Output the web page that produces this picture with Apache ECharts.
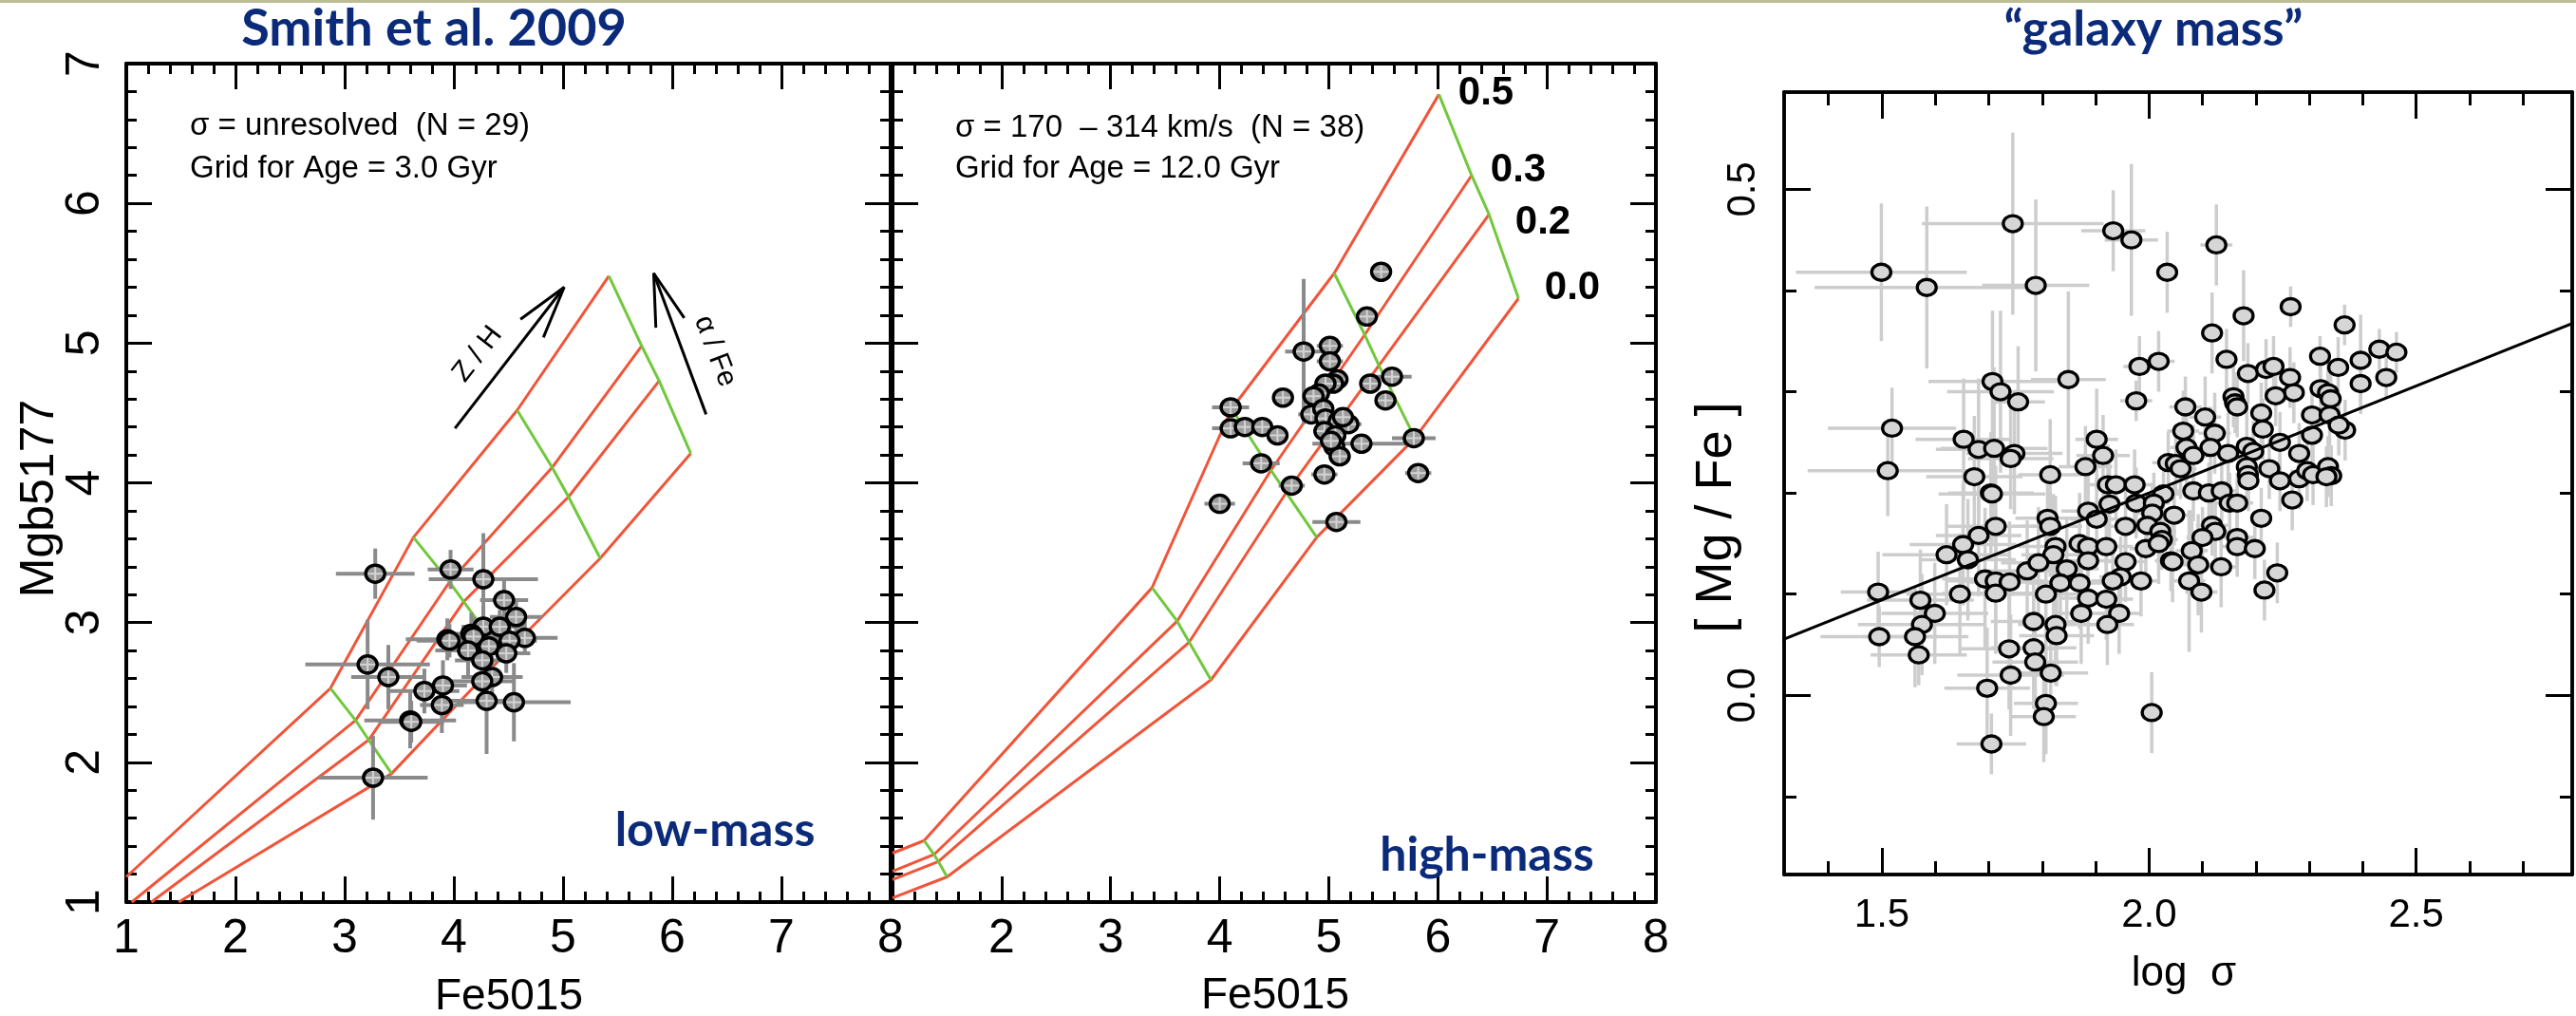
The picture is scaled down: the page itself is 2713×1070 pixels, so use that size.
<!DOCTYPE html>
<html><head><meta charset="utf-8">
<script src="https://cdn.jsdelivr.net/npm/echarts@6/dist/echarts.min.js"></script>
<style>html,body{margin:0;padding:0;background:#fff}#c{width:2713px;height:1070px}</style>
</head><body><div id="c"></div>
<script>
// ---------------- DATA ----------------
// Left panel (low-mass, age 3 Gyr) model grid lines [Fe5015, Mgb5177]
const lowGrid05 = [[1.00,1.18],[2.87,2.53],[3.63,3.61],[4.58,4.52],[5.42,5.48]];
const lowGrid03 = [[1.05,1.00],[3.10,2.30],[3.96,3.29],[4.90,4.11],[5.72,4.98]];
const lowGrid02 = [[1.23,1.00],[3.22,2.16],[4.09,3.15],[5.05,3.90],[5.88,4.73]];
const lowGrid00 = [[1.48,1.00],[3.43,1.92],[4.45,2.76],[5.34,3.46],[6.17,4.21]];
// Middle panel (high-mass, age 12 Gyr) model grid lines
const highGrid05 = [[1.00,1.35],[1.29,1.44],[3.38,3.25],[4.11,4.53],[5.05,5.50],[6.01,6.78]];
const highGrid03 = [[1.00,1.22],[1.38,1.34],[3.61,3.01],[4.47,4.09],[5.33,5.06],[6.31,6.20]];
const highGrid02 = [[1.00,1.16],[1.42,1.29],[3.72,2.86],[4.61,3.93],[5.46,4.84],[6.47,5.92]];
const highGrid00 = [[1.00,1.03],[1.50,1.18],[3.92,2.59],[4.89,3.61],[5.79,4.32],[6.74,5.32]];
const alphaLabels = ['0.5','0.3','0.2','0.0'];

// Points [Fe5015, Mgb5177, errFe, errMgb]
const lowMassPoints = [
 [3.28,3.35,0.36,0.18],[3.97,3.38,0.21,0.14],[4.27,3.31,0.50,0.33],[4.46,3.16,0.22,0.16],
 [4.57,3.04,0.24,0.12],[4.27,2.97,0.20,0.15],[4.42,2.97,0.22,0.12],[4.16,2.92,0.25,0.15],
 [4.18,2.90,0.20,0.14],[3.94,2.88,0.38,0.15],[4.65,2.89,0.30,0.12],[4.51,2.87,0.25,0.14],
 [4.32,2.83,0.22,0.15],[4.13,2.80,0.30,0.18],[4.48,2.78,0.22,0.14],[4.26,2.73,0.25,0.22],
 [3.21,2.70,0.57,0.32],[3.40,2.61,0.34,0.23],[4.35,2.61,0.28,0.15],[4.26,2.58,0.30,0.20],
 [3.90,2.55,0.22,0.18],[3.73,2.51,0.32,0.16],[3.89,2.41,0.20,0.20],[4.30,2.44,0.35,0.38],
 [4.55,2.43,0.52,0.28],[3.60,2.30,0.42,0.20],[3.61,2.29,0.30,0.15],[3.26,1.89,0.50,0.30],
 [3.96,2.87,0.30,0.12]
];
const highMassPoints = [
 [5.48,5.51,0.05,0.03],[5.35,5.19,0.05,0.03],[4.77,4.94,0.17,0.52],[5.01,4.98,0.12,0.04],
 [5.01,4.87,0.12,0.04],[5.58,4.76,0.18,0.04],[5.38,4.71,0.08,0.04],[5.52,4.59,0.06,0.03],
 [5.08,4.74,0.10,0.04],[5.04,4.71,0.10,0.04],[4.97,4.71,0.10,0.04],[4.91,4.64,0.10,0.04],
 [4.86,4.62,0.10,0.04],[4.58,4.61,0.08,0.03],[4.10,4.54,0.17,0.04],[4.10,4.39,0.17,0.04],
 [4.23,4.40,0.10,0.03],[4.39,4.40,0.10,0.03],[4.53,4.34,0.08,0.03],[4.84,4.49,0.12,0.04],
 [4.95,4.53,0.10,0.04],[4.97,4.46,0.10,0.04],[5.09,4.44,0.10,0.04],[5.18,4.42,0.12,0.04],
 [4.96,4.37,0.10,0.04],[5.06,4.34,0.10,0.04],[5.05,4.26,0.10,0.04],[5.10,4.19,0.10,0.04],
 [5.30,4.28,0.45,0.04],[5.78,4.32,0.20,0.04],[4.38,4.14,0.17,0.04],[4.66,3.98,0.12,0.04],
 [4.96,4.06,0.12,0.04],[5.82,4.07,0.12,0.04],[4.00,3.85,0.14,0.04],[5.07,3.72,0.22,0.05],
 [5.02,4.30,0.10,0.04],[5.13,4.47,0.10,0.04]
];
// Arrows (data coords of the left panel)
const arrowZH = [[4.01,4.39],[5.01,5.40]];
const arrowZHHead = [[4.61,5.17],[5.01,5.40],[4.82,5.04]];
const arrowAF = [[6.31,4.49],[5.83,5.50]];
const arrowAFHead = [[5.85,5.11],[5.83,5.50],[6.11,5.18]];

// Right panel: [log sigma, [Mg/Fe], err log sigma, err [Mg/Fe]]
const massPoints = [
 [1.499,0.418,0.16,0.068],[1.584,0.403,0.21,0.080],[1.745,0.466,0.17,0.090],[1.788,0.405,0.10,0.085],
 [1.933,0.459,0.06,0.040],[1.967,0.450,0.05,0.075],[2.034,0.418,0.02,0.040],[1.707,0.310,0.12,0.070],
 [1.722,0.300,0.10,0.080],[1.755,0.290,0.05,0.055],[1.849,0.312,0.07,0.087],[1.982,0.325,0.03,0.030],
 [2.018,0.330,0.03,0.030],[1.976,0.291,0.03,0.020],[1.519,0.264,0.12,0.040],[1.511,0.222,0.15,0.045],
 [1.653,0.253,0.09,0.060],[1.681,0.243,0.08,0.070],[1.710,0.244,0.10,0.080],[1.748,0.239,0.09,0.060],
 [1.741,0.234,0.08,0.050],[1.673,0.216,0.09,0.060],[1.704,0.200,0.08,0.060],[1.706,0.199,0.10,0.050],
 [1.815,0.218,0.06,0.055],[1.902,0.253,0.04,0.050],[1.914,0.237,0.05,0.040],[1.881,0.226,0.05,0.040],
 [1.923,0.208,0.04,0.040],[1.938,0.208,0.04,0.035],[1.973,0.208,0.03,0.035],[1.886,0.182,0.05,0.045],
 [1.902,0.174,0.05,0.040],[1.926,0.189,0.04,0.040],[1.976,0.190,0.03,0.035],[2.027,0.199,0.03,0.030],
 [2.009,0.190,0.03,0.030],[2.006,0.180,0.03,0.030],[1.810,0.175,0.06,0.050],[1.815,0.167,0.06,0.050],
 [1.713,0.167,0.09,0.060],[1.681,0.158,0.08,0.060],[1.652,0.149,0.10,0.060],[1.621,0.139,0.12,0.050],
 [1.661,0.134,0.09,0.060],[1.825,0.147,0.07,0.050],[1.821,0.139,0.06,0.060],[1.870,0.150,0.05,0.050],
 [1.886,0.147,0.05,0.045],[1.920,0.147,0.05,0.040],[1.956,0.167,0.04,0.040],[1.997,0.168,0.03,0.030],
 [2.021,0.162,0.03,0.030],[1.994,0.145,0.03,0.030],[2.024,0.154,0.03,0.030],[1.772,0.123,0.08,0.050],
 [1.793,0.131,0.07,0.055],[1.846,0.125,0.06,0.050],[1.834,0.111,0.06,0.045],[1.870,0.111,0.05,0.045],
 [1.886,0.133,0.05,0.045],[1.956,0.132,0.04,0.040],[1.947,0.117,0.04,0.040],[1.932,0.113,0.04,0.040],
 [1.985,0.113,0.03,0.035],[2.041,0.133,0.03,0.030],[1.493,0.102,0.07,0.040],[1.572,0.094,0.10,0.050],
 [1.646,0.100,0.10,0.060],[1.693,0.115,0.08,0.070],[1.713,0.113,0.09,0.070],[1.713,0.101,0.10,0.060],
 [1.739,0.112,0.08,0.060],[1.807,0.100,0.07,0.060],[1.886,0.096,0.05,0.045],[1.920,0.095,0.05,0.040],
 [1.944,0.081,0.04,0.040],[1.873,0.081,0.05,0.050],[1.599,0.081,0.10,0.050],[1.575,0.070,0.12,0.050],
 [1.562,0.058,0.10,0.050],[1.495,0.058,0.11,0.030],[1.569,0.040,0.09,0.030],[1.784,0.073,0.08,0.060],
 [1.825,0.070,0.07,0.060],[1.827,0.059,0.07,0.050],[1.922,0.070,0.05,0.040],[1.738,0.046,0.09,0.060],
 [1.784,0.047,0.08,0.060],[1.787,0.033,0.08,0.050],[1.741,0.020,0.10,0.060],[1.816,0.022,0.07,0.050],
 [1.697,0.007,0.08,0.060],[1.807,-0.008,0.06,0.050],[1.803,-0.021,0.06,0.045],[2.005,-0.017,0.02,0.040],
 [1.705,-0.048,0.065,0.030],
 [2.126,0.445,0.03,0.040],[2.265,0.384,0.02,0.020],[2.177,0.375,0.02,0.045],[2.366,0.366,0.02,0.020],
 [2.118,0.358,0.02,0.040],[2.431,0.342,0.02,0.020],[2.463,0.339,0.02,0.020],[2.320,0.335,0.02,0.020],
 [2.354,0.324,0.02,0.030],[2.396,0.331,0.02,0.045],[2.444,0.314,0.02,0.020],[2.396,0.308,0.02,0.030],
 [2.145,0.332,0.02,0.030],[2.185,0.318,0.02,0.030],[2.219,0.322,0.02,0.030],[2.233,0.325,0.02,0.030],
 [2.264,0.314,0.02,0.030],[2.271,0.299,0.02,0.030],[2.237,0.296,0.02,0.030],[2.321,0.303,0.02,0.030],
 [2.335,0.299,0.02,0.030],[2.340,0.293,0.02,0.030],[2.158,0.295,0.02,0.030],[2.161,0.289,0.02,0.030],
 [2.165,0.285,0.02,0.030],[2.068,0.285,0.03,0.030],[2.105,0.275,0.03,0.040],[2.210,0.279,0.02,0.030],
 [2.213,0.263,0.02,0.030],[2.305,0.277,0.02,0.030],[2.338,0.277,0.02,0.030],[2.367,0.262,0.02,0.030],
 [2.355,0.267,0.02,0.030],[2.064,0.261,0.03,0.040],[2.123,0.259,0.03,0.040],[2.070,0.245,0.03,0.040],
 [2.115,0.245,0.03,0.040],[2.148,0.239,0.02,0.040],[2.083,0.237,0.03,0.030],[2.036,0.230,0.03,0.030],
 [2.050,0.229,0.03,0.030],[2.059,0.224,0.03,0.030],[2.183,0.246,0.02,0.040],[2.195,0.241,0.02,0.030],
 [2.245,0.250,0.02,0.030],[2.281,0.239,0.02,0.030],[2.305,0.257,0.02,0.030],[2.183,0.226,0.02,0.030],
 [2.185,0.218,0.02,0.030],[2.186,0.212,0.02,0.030],[2.225,0.224,0.02,0.030],[2.245,0.212,0.02,0.030],
 [2.281,0.214,0.02,0.030],[2.296,0.222,0.02,0.030],[2.307,0.218,0.02,0.030],[2.335,0.226,0.02,0.030],
 [2.341,0.217,0.02,0.030],[2.332,0.216,0.02,0.030],[2.268,0.193,0.02,0.030],[2.083,0.202,0.03,0.030],
 [2.112,0.200,0.03,0.030],[2.136,0.202,0.03,0.030],[2.151,0.190,0.03,0.030],[2.165,0.190,0.03,0.030],
 [2.210,0.175,0.02,0.030],[2.047,0.178,0.03,0.030],[2.118,0.168,0.03,0.030],[2.124,0.162,0.03,0.030],
 [2.100,0.156,0.03,0.030],[2.165,0.156,0.03,0.030],[2.165,0.147,0.03,0.030],[2.198,0.145,0.02,0.030],
 [2.080,0.143,0.03,0.040],[2.018,0.150,0.03,0.040],[2.044,0.132,0.03,0.040],[2.092,0.129,0.03,0.050],
 [2.135,0.127,0.03,0.040],[2.075,0.113,0.03,0.070],[2.098,0.102,0.03,0.040],[2.240,0.121,0.02,0.030],
 [2.216,0.104,0.02,0.030]
];
const fitLine = [[1.30,0.052],[2.80,0.369]];

// Tick values
const feTicksMin = 1, feTicksMax = 8, mgbMin = 1, mgbMax = 7;
const massXRange = [1.317, 2.792];
const massYRange = [-0.177, 0.596];
const massXMajor = [1.5, 2.0, 2.5];
const massXMinor = [1.4, 1.6, 1.7, 1.8, 1.9, 2.1, 2.2, 2.3, 2.4, 2.6, 2.7];
const massYMajor = [0.0, 0.5];
const massYMinor = [-0.1, 0.1, 0.2, 0.3, 0.4];

// ---------------- STYLE ----------------
const SANS = "'Liberation Sans', Arial, sans-serif";
const NARROW = "'Liberation Sans Narrow', 'Liberation Sans', Arial, sans-serif";
const HUM = "Lato, 'Open Sans', sans-serif";
const NAVY = '#0b2b7a';
const RED = '#f0553a';
const GREEN = '#70c83c';

const chart = echarts.init(document.getElementById('c'), null, {renderer: 'canvas'});

function featAxis(gi, pos, min, max, label, fmt, rotate) {
  return {
    type: 'value', gridIndex: gi, position: pos, min: min, max: max, interval: 1,
    axisLine: {onZero: false, lineStyle: {color: '#000', width: 4}},
    axisTick: {inside: true, length: 27, lineStyle: {color: '#000', width: 3}},
    minorTick: {show: true, splitNumber: 5, length: 11, lineStyle: {color: '#000', width: 3}},
    splitLine: {show: false}, minorSplitLine: {show: false},
    axisLabel: {show: label, fontSize: 50, color: '#000', fontFamily: NARROW,
      margin: rotate ? 18 : 14, rotate: rotate || 0, formatter: fmt}
  };
}
function massAxis(pos, range, ticks, len, label, rotate) {
  return {
    type: 'value', gridIndex: 2, position: pos, min: range[0], max: range[1],
    axisLine: {onZero: false, lineStyle: {color: '#000', width: 3.5}},
    axisTick: {inside: true, length: len, customValues: ticks, lineStyle: {color: '#000', width: 3}},
    splitLine: {show: false},
    axisLabel: label ? {show: true, customValues: ticks, fontSize: 42, color: '#000', fontFamily: SANS,
      margin: 22, rotate: rotate || 0, formatter: v => Number(v).toFixed(1)} : {show: false}
  };
}

const xAxes = [
  featAxis(0, 'bottom', feTicksMin, feTicksMax, true, v => String(v)),
  featAxis(0, 'top', feTicksMin, feTicksMax, false),
  featAxis(1, 'bottom', feTicksMin, feTicksMax, true, v => (v === 1 ? '' : String(v))),
  featAxis(1, 'top', feTicksMin, feTicksMax, false),
  massAxis('bottom', massXRange, massXMajor, 28, true),
  massAxis('bottom', massXRange, massXMinor, 14, false),
  massAxis('top', massXRange, massXMajor, 28, false),
  massAxis('top', massXRange, massXMinor, 14, false)
];
const yAxes = [
  featAxis(0, 'left', mgbMin, mgbMax, true, v => String(v), 90),
  featAxis(0, 'right', mgbMin, mgbMax, false),
  featAxis(1, 'left', mgbMin, mgbMax, false),
  featAxis(1, 'right', mgbMin, mgbMax, false),
  massAxis('left', massYRange, massYMajor, 28, true, 90),
  massAxis('left', massYRange, massYMinor, 13, false),
  massAxis('right', massYRange, massYMajor, 28, false),
  massAxis('right', massYRange, massYMinor, 13, false)
];

function lineS(ai, data, color, w) {
  return {type: 'line', xAxisIndex: ai, yAxisIndex: ai, data: data, symbol: 'none', silent: true,
    lineStyle: {color: color, width: w}, z: 2, animation: false};
}
function errS(ai, data, color, w) {
  return {type: 'custom', xAxisIndex: ai, yAxisIndex: ai, data: data, silent: true, z: 3, clip: true,
    dimensions: ['x', 'y', 'ex', 'ey'], encode: {x: 'x', y: 'y'},
    renderItem: function (p, api) {
      const x = api.value(0), y = api.value(1), ex = api.value(2), ey = api.value(3);
      const a = api.coord([x - ex, y]), b = api.coord([x + ex, y]);
      const c = api.coord([x, y - ey]), d = api.coord([x, y + ey]);
      const st = {stroke: color, lineWidth: w};
      return {type: 'group', children: [
        {type: 'line', shape: {x1: a[0], y1: a[1], x2: b[0], y2: b[1]}, style: st},
        {type: 'line', shape: {x1: c[0], y1: c[1], x2: d[0], y2: d[1]}, style: st}
      ]};
    }};
}
function ptS(ai, data, fill, rx, ry, cross, lw) {
  return {type: 'custom', xAxisIndex: ai, yAxisIndex: ai, data: data, silent: true, z: 4, clip: true,
    dimensions: ['x', 'y', 'ex', 'ey'], encode: {x: 'x', y: 'y'},
    renderItem: function (p, api) {
      const c = api.coord([api.value(0), api.value(1)]);
      const ch = [{type: 'ellipse', shape: {cx: c[0], cy: c[1], rx: rx, ry: ry},
        style: {fill: fill, stroke: '#000', lineWidth: lw}}];
      if (cross) {
        ch.push({type: 'line', shape: {x1: c[0] - rx + 2, y1: c[1], x2: c[0] + rx - 2, y2: c[1]}, style: {stroke: '#d4d4d4', lineWidth: 2}});
        ch.push({type: 'line', shape: {x1: c[0], y1: c[1] - ry + 2, x2: c[0], y2: c[1] + ry - 2}, style: {stroke: '#d4d4d4', lineWidth: 2}});
      }
      return {type: 'group', children: ch};
    }};
}

const series = [];
// left grid
[lowGrid05, lowGrid03, lowGrid02, lowGrid00].forEach(g => series.push(lineS(0, g, RED, 3)));
for (let i = 1; i < lowGrid05.length; i++) {
  series.push(lineS(0, [lowGrid05[i], lowGrid03[i], lowGrid02[i], lowGrid00[i]], GREEN, 3));
}
series.push(lineS(0, arrowZH, '#000', 3), lineS(0, arrowZHHead, '#000', 3));
series.push(lineS(0, arrowAF, '#000', 3), lineS(0, arrowAFHead, '#000', 3));
series.push(errS(0, lowMassPoints, '#8a8a8a', 4), ptS(0, lowMassPoints, '#9c9c9c', 10, 9, true, 3.5));
// middle grid
[highGrid05, highGrid03, highGrid02, highGrid00].forEach(g => series.push(lineS(2, g, RED, 3)));
for (let i = 1; i < highGrid05.length; i++) {
  series.push(lineS(2, [highGrid05[i], highGrid03[i], highGrid02[i], highGrid00[i]], GREEN, 3));
}
series.push(errS(2, highMassPoints, '#8a8a8a', 4), ptS(2, highMassPoints, '#9c9c9c', 10, 9, true, 3.5));
// right grid
series.push(errS(4, massPoints, '#cdcdcd', 3.5));
series.push(lineS(4, fitLine, '#000', 3));
series.push(ptS(4, massPoints, '#d6d6d6', 10, 8.5, false, 3.3));
series[series.length - 2].z = 5;

function txt(x, y, s, size, opts) {
  opts = opts || {};
  return {type: 'text', x: x, y: y, rotation: opts.rot || 0, z: 10, silent: true,
    scaleX: opts.sx || 1, scaleY: opts.sy || 1,
    style: {text: s, fontSize: size, fontFamily: opts.font || SANS, fontWeight: opts.bold ? 'bold' : 'normal',
      fill: opts.color || '#000', align: opts.align || 'center', verticalAlign: 'middle'}};
}

const graphics = [
  {type: 'rect', shape: {x: 0, y: 0, width: 2713, height: 3}, style: {fill: '#bdbd95'}, z: 10},
  txt(457, 31, 'Smith et al. 2009', 54, {font: HUM, bold: true, color: NAVY}),
  txt(2268, 31, '\u201Cgalaxy mass\u201D', 52, {font: HUM, bold: true, color: NAVY}),
  txt(753, 875, 'low-mass', 50, {font: HUM, bold: true, color: NAVY}),
  txt(1566, 901, 'high-mass', 50, {font: HUM, bold: true, color: NAVY}),
  txt(200, 133, '\u03C3 = unresolved  (N = 29)', 33, {align: 'left', font: NARROW}),
  txt(200, 178, 'Grid for Age = 3.0 Gyr', 33, {align: 'left', font: NARROW}),
  txt(1006, 135, '\u03C3 = 170  \u2013 314 km/s  (N = 38)', 33, {align: 'left', font: NARROW}),
  txt(1006, 178, 'Grid for Age = 12.0 Gyr', 33, {align: 'left', font: NARROW}),
  txt(1565, 98, alphaLabels[0], 42, {font: NARROW, bold: true}),
  txt(1599, 179, alphaLabels[1], 42, {font: NARROW, bold: true}),
  txt(1625, 234, alphaLabels[2], 42, {font: NARROW, bold: true}),
  txt(1656, 303, alphaLabels[3], 42, {font: NARROW, bold: true}),
  txt(503, 373, 'Z / H', 30, {rot: 0.908}),
  txt(753, 370, '\u03B1 / Fe', 30, {rot: -1.204}),
  txt(42, 525, 'Mgb5177', 50, {rot: Math.PI / 2}),
  txt(536, 1050, 'Fe5015', 46),
  txt(1343, 1049, 'Fe5015', 46),
  txt(1808, 545, '[ Mg / Fe ]', 54, {rot: Math.PI / 2}),
  txt(2300, 1026, 'log  \u03C3', 44)
];

chart.setOption({
  animation: false,
  backgroundColor: '#fff',
  grid: [
    {left: 133, top: 67, width: 805, height: 883},
    {left: 940, top: 67, width: 804, height: 883},
    {left: 1879, top: 97, width: 830, height: 824}
  ],
  xAxis: xAxes,
  yAxis: yAxes,
  series: series,
  graphic: graphics
});
</script></body></html>
